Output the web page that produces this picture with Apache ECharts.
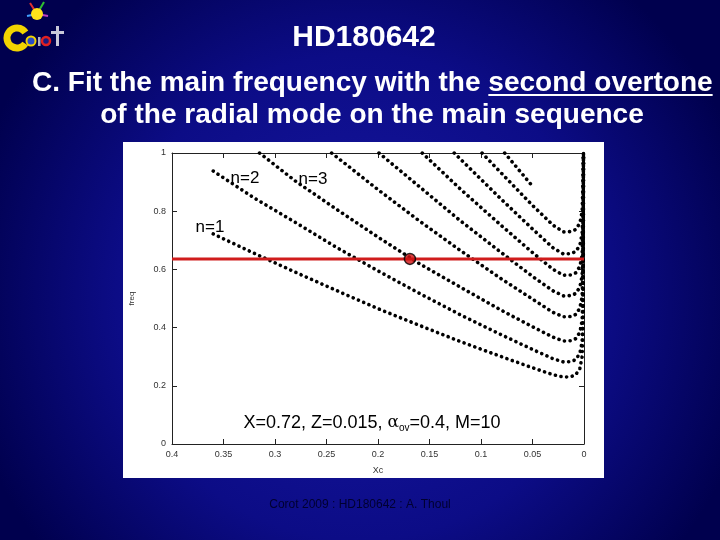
<!DOCTYPE html>
<html><head><meta charset="utf-8">
<script src="https://cdn.jsdelivr.net/npm/echarts@6/dist/echarts.min.js"></script>
<style>html,body{margin:0;padding:0;background:#000060;} #c{width:720px;height:540px;}</style>
</head><body><div id="c"></div>
<script>
// ---- data: radial modes, frequency vs central hydrogen Xc ----
const mode1 = [[0.36,0.722],[0.32,0.655],[0.28,0.590],[0.24,0.527],[0.20,0.465],[0.16,0.408],[0.12,0.352],[0.08,0.300],[0.05,0.262],[0.03,0.238],[0.02,0.230],[0.013,0.231],[0.008,0.238],[0.004,0.260],[0.0018,0.300],[0.0008,0.430],[0.0005,1.0]];
const mode2 = [[0.36,0.938],[0.32,0.845],[0.28,0.761],[0.24,0.675],[0.20,0.595],[0.16,0.518],[0.12,0.444],[0.08,0.375],[0.05,0.325],[0.03,0.293],[0.02,0.282],[0.013,0.283],[0.008,0.290],[0.004,0.312],[0.0018,0.352],[0.0008,0.482],[0.0005,1.0]];
const mode3 = [[0.315,1.0],[0.28,0.903],[0.24,0.806],[0.20,0.711],[0.16,0.620],[0.12,0.539],[0.08,0.459],[0.05,0.403],[0.03,0.367],[0.02,0.354],[0.013,0.355],[0.008,0.362],[0.004,0.384],[0.0018,0.424],[0.0008,0.554],[0.0005,1.0]];
const mode4 = [[0.245,1.0],[0.20,0.874],[0.16,0.767],[0.12,0.665],[0.08,0.567],[0.05,0.498],[0.03,0.452],[0.02,0.437],[0.013,0.438],[0.008,0.445],[0.004,0.467],[0.0018,0.507],[0.0008,0.637],[0.0005,1.0]];
const mode5 = [[0.199,1.0],[0.16,0.885],[0.12,0.767],[0.08,0.657],[0.05,0.576],[0.03,0.526],[0.02,0.509],[0.013,0.510],[0.008,0.517],[0.004,0.539],[0.0018,0.579],[0.0008,0.709],[0.0005,1.0]];
const mode6 = [[0.157,1.0],[0.12,0.876],[0.08,0.750],[0.05,0.658],[0.03,0.600],[0.02,0.580],[0.013,0.581],[0.008,0.588],[0.004,0.610],[0.0018,0.650],[0.0008,0.780],[0.0005,1.0]];
const mode7 = [[0.126,1.0],[0.12,0.979],[0.08,0.840],[0.05,0.739],[0.03,0.674],[0.02,0.653],[0.013,0.654],[0.008,0.661],[0.004,0.683],[0.0018,0.723],[0.0008,0.853],[0.0005,1.0]];
const mode8 = [[0.099,1.0],[0.08,0.930],[0.05,0.820],[0.03,0.752],[0.02,0.729],[0.013,0.730],[0.008,0.737],[0.004,0.759],[0.0018,0.799],[0.0008,0.929],[0.0005,1.0]];
const mode9 = [[0.077,1.0],[0.064,0.945],[0.051,0.890]];
const modes = [mode1, mode2, mode3, mode4, mode5, mode6, mode7, mode8, mode9];
const observedFreq = 0.636;           // red line: observed main frequency
const fitPoint = [[0.169, 0.636]];     // fitted model on n=3
const xRange = [0, 0.4], xStep = 0.05;
const yRange = [0, 1], yStep = 0.2;

const FONT = '"Liberation Sans", Arial, Helvetica, sans-serif';
const chart = echarts.init(document.getElementById('c'), null, {renderer: 'canvas', width: 720, height: 540});

function fitSize(text, weight, target) {
  const ctx = document.createElement('canvas').getContext('2d');
  ctx.font = weight + ' 100px ' + FONT;
  return 100 * target / ctx.measureText(text).width;
}
function textW(text, weight, size) {
  const ctx = document.createElement('canvas').getContext('2d');
  ctx.font = weight + ' ' + size + 'px ' + FONT;
  return ctx.measureText(text).width;
}

const l1a = 'C. Fit the main frequency with the ';
const l1b = 'second overtone';
const l2 = 'of the radial mode on the main sequence';
const subSize = fitSize(l1a + l1b, 'bold', 681);
const l1Left = 32;
const l1aW = textW(l1a, 'bold', subSize);
const l1bW = textW(l1b, 'bold', subSize);

function axisCommon(extra) {
  return Object.assign({
    type: 'value',
    axisLine: {show: true, onZero: false, lineStyle: {color: '#222', width: 1}},
    axisTick: {show: true, inside: true, length: 5, lineStyle: {color: '#222', width: 1}},
    splitLine: {show: false}
  }, extra);
}

const lblStyle = {fontSize: 9, color: '#333', fontFamily: FONT};

const series = modes.map((d, i) => ({
  type: 'line', name: 'n=' + (i + 1), data: d,
  symbol: 'none', showSymbol: false, smooth: false,
  lineStyle: {color: '#000', width: 3.6, type: [0.1, 5.6], cap: 'round', join: 'round'},
  silent: true, z: 3
}));
series.push({
  type: 'line', name: 'observed', data: [[xRange[1], observedFreq], [xRange[0], observedFreq]],
  symbol: 'none', lineStyle: {color: '#d01c1c', width: 3}, silent: true, z: 4
});
series.push({
  type: 'scatter', name: 'fit', data: fitPoint, symbol: 'circle', symbolSize: 11,
  itemStyle: {color: '#d01010', borderColor: '#000', borderWidth: 1.5}, silent: true, z: 5
});

const option = {
  animation: false,
  backgroundColor: new echarts.graphic.RadialGradient(0.5, 0.55, 0.75, [
    {offset: 0, color: '#1818a4'}, {offset: 0.6, color: '#0c0c86'}, {offset: 1, color: '#00004e'}
  ]),
  grid: {left: 172, right: 136, top: 153, bottom: 96, containLabel: false},
  xAxis: [
    axisCommon({min: xRange[0], max: xRange[1], interval: xStep, inverse: true, position: 'bottom',
      name: 'Xc', nameLocation: 'middle', nameGap: 22, nameTextStyle: lblStyle,
      axisLabel: Object.assign({margin: 6}, lblStyle)}),
    axisCommon({min: xRange[0], max: xRange[1], interval: xStep, inverse: true, position: 'top',
      axisLabel: {show: false}})
  ],
  yAxis: [
    axisCommon({min: yRange[0], max: yRange[1], interval: yStep, position: 'left',
      name: 'freq', nameLocation: 'middle', nameGap: 36, nameRotate: 90, nameTextStyle: {fontSize: 8, color: '#333', fontFamily: FONT},
      axisLabel: Object.assign({margin: 6}, lblStyle)}),
    axisCommon({min: yRange[0], max: yRange[1], interval: yStep, position: 'right',
      axisLabel: {show: false}})
  ],
  series: series,
  graphic: [
    {type: 'rect', z: -5, shape: {x: 123, y: 142, width: 481, height: 336}, style: {fill: '#ffffff'}},
    {type: 'text', z: 10, x: 364, y: 38, style: {text: 'HD180642', font: 'bold 30px ' + FONT, fill: '#ffffff',
      align: 'center', verticalAlign: 'middle', textAlign: 'center', textVerticalAlign: 'middle'}},
    {type: 'text', z: 10, x: l1Left, y: 83, style: {text: l1a, font: 'bold ' + subSize + 'px ' + FONT, fill: '#ffffff',
      align: 'left', verticalAlign: 'middle', textAlign: 'left', textVerticalAlign: 'middle'}},
    {type: 'text', z: 10, x: l1Left + l1aW, y: 83, style: {text: l1b, font: 'bold ' + subSize + 'px ' + FONT, fill: '#ffffff',
      align: 'left', verticalAlign: 'middle', textAlign: 'left', textVerticalAlign: 'middle'}},
    {type: 'rect', z: 10, shape: {x: l1Left + l1aW, y: 94, width: l1bW, height: 2}, style: {fill: '#ffffff'}},
    {type: 'text', z: 10, x: 372, y: 115, style: {text: l2, font: 'bold ' + subSize + 'px ' + FONT, fill: '#ffffff',
      align: 'center', verticalAlign: 'middle', textAlign: 'center', textVerticalAlign: 'middle'}},
    {type: 'text', z: 10, x: 210, y: 227, style: {text: 'n=1', font: '17px ' + FONT, fill: '#000',
      align: 'center', verticalAlign: 'middle', textAlign: 'center', textVerticalAlign: 'middle'}},
    {type: 'text', z: 10, x: 245, y: 178, style: {text: 'n=2', font: '17px ' + FONT, fill: '#000',
      align: 'center', verticalAlign: 'middle', textAlign: 'center', textVerticalAlign: 'middle'}},
    {type: 'text', z: 10, x: 313, y: 179, style: {text: 'n=3', font: '17px ' + FONT, fill: '#000',
      align: 'center', verticalAlign: 'middle', textAlign: 'center', textVerticalAlign: 'middle'}},
    {type: 'text', z: 10, x: 372, y: 423, style: {
      text: '{n|X=0.72, Z=0.015, }{a|α}{s|ov}{n|=0.4, M=10}',
      align: 'center', verticalAlign: 'middle', textAlign: 'center', textVerticalAlign: 'middle',
      rich: {
        n: {fontSize: 18, fontFamily: FONT, fill: '#000', color: '#000'},
        a: {fontSize: 17, fontFamily: '"DejaVu Serif", serif', fill: '#000', color: '#000'},
        s: {fontSize: 10, fontFamily: FONT, fill: '#000', color: '#000', padding: [10, 0, 0, 0]}
      }}},
    {type: 'text', z: 10, x: 360, y: 505, style: {text: 'Corot 2009 : HD180642 : A. Thoul', font: '12px ' + FONT, fill: '#000030',
      align: 'center', verticalAlign: 'middle', textAlign: 'center', textVerticalAlign: 'middle'}},
    {type: 'arc', z: 10, shape: {cx: 17, cy: 38, r: 10, startAngle: 0.6, endAngle: 5.7, clockwise: true},
      style: {stroke: '#f2d400', lineWidth: 7, fill: null}},
    {type: 'circle', z: 10, shape: {cx: 31, cy: 41, r: 4.5}, style: {fill: '#2a4cc8', stroke: '#f2d400', lineWidth: 2}},
    {type: 'circle', z: 10, shape: {cx: 46, cy: 41, r: 4}, style: {fill: '#1a1a80', stroke: '#e02020', lineWidth: 2.5}},
    {type: 'rect', z: 10, shape: {x: 38, y: 37, width: 2.5, height: 9}, style: {fill: '#b0b0c0'}},
    {type: 'rect', z: 10, shape: {x: 56, y: 26, width: 3, height: 20}, style: {fill: '#c8c8d8'}},
    {type: 'rect', z: 10, shape: {x: 51, y: 31, width: 13, height: 3}, style: {fill: '#c8c8d8'}},
    {type: 'circle', z: 10, shape: {cx: 37, cy: 14, r: 6}, style: {fill: '#ffe21a'}},
    {type: 'line', z: 9, shape: {x1: 37, y1: 14, x2: 30, y2: 3}, style: {stroke: '#e03030', lineWidth: 2}},
    {type: 'line', z: 9, shape: {x1: 37, y1: 14, x2: 44, y2: 2}, style: {stroke: '#30c030', lineWidth: 2}},
    {type: 'line', z: 9, shape: {x1: 37, y1: 14, x2: 48, y2: 16}, style: {stroke: '#c040c0', lineWidth: 2}},
    {type: 'line', z: 9, shape: {x1: 37, y1: 14, x2: 27, y2: 16}, style: {stroke: '#40a0ff', lineWidth: 2}}
  ]
};
chart.setOption(option);
</script>
</body></html>
